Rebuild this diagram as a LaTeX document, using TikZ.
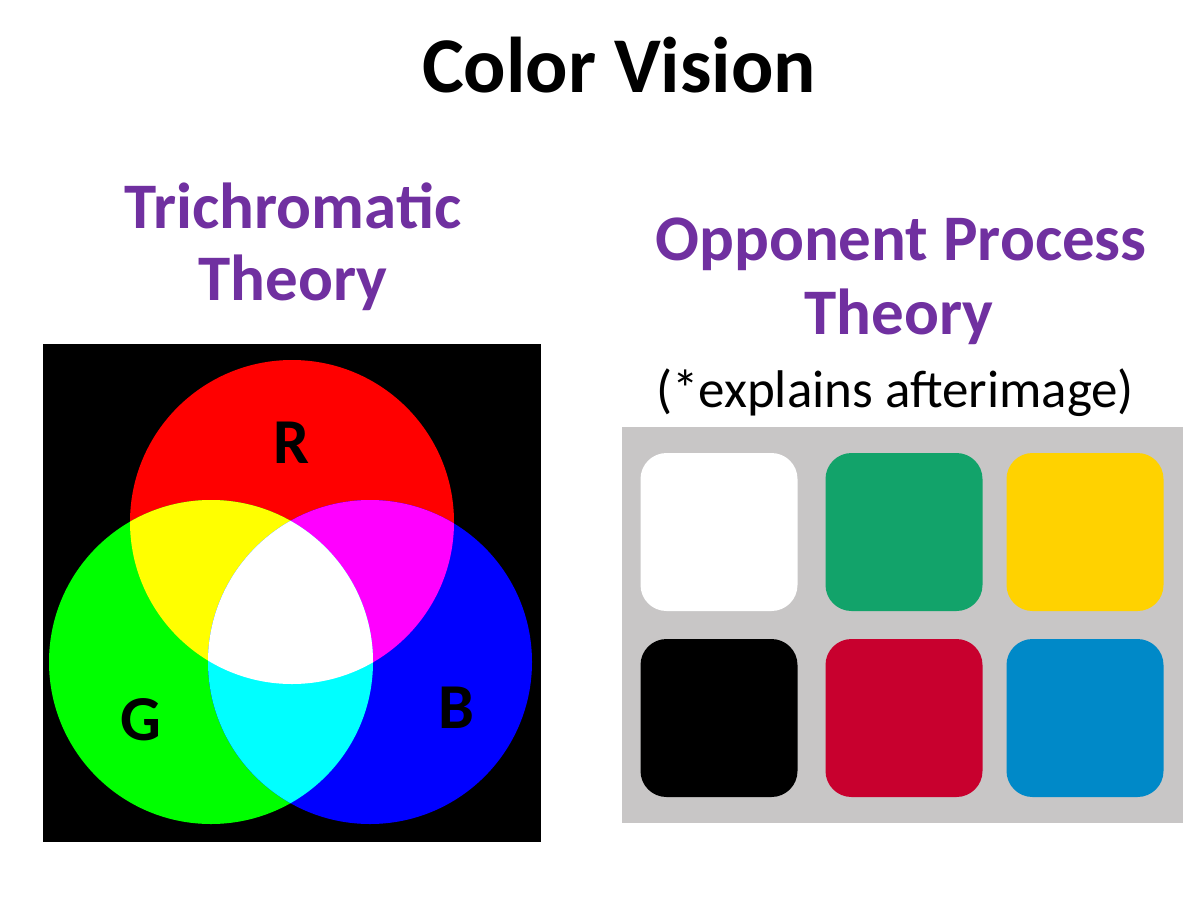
\documentclass[tikz,border=0pt]{standalone}
\usepackage{fontspec}
\setmainfont{Carlito}
\usepackage{xcolor}
\usepackage{tikz}
\usetikzlibrary{positioning}
\definecolor{theorypurple}{HTML}{7030A0}
\definecolor{panelgray}{HTML}{C8C6C6}
\definecolor{tilegreen}{HTML}{12A36A}
\definecolor{tileyellow}{HTML}{FFD200}
\definecolor{tilered}{HTML}{C8002E}
\definecolor{tileblue}{HTML}{0089C8}
\definecolor{lightred}{HTML}{FF0000}
\definecolor{lightgreen}{HTML}{00FF00}
\definecolor{lightblue}{HTML}{0000FF}
\definecolor{mixyellow}{HTML}{FFFF00}
\definecolor{mixmagenta}{HTML}{FF00FF}
\definecolor{mixcyan}{HTML}{00FFFF}

\begin{document}
\begin{tikzpicture}[x=1pt, y=-1pt, font=\bfseries,
  heading/.style={anchor=base, inner sep=0pt, text=theorypurple, font=\bfseries\fontsize{65}{72}\selectfont},
  lightletter/.style={anchor=base, inner sep=0pt, font=\bfseries\fontsize{64}{70}\selectfont},
  tile/.style={minimum width=157pt, minimum height=158pt, rounded corners=26pt, inner sep=0pt}]
  \useasboundingbox (0,0) rectangle (1191,905);
  \fill[white] (0,0) rectangle (1191,905);

  % Titles
  \node[anchor=base, inner sep=0pt, font=\bfseries\fontsize{79}{86}\selectfont] (title) at (619,92) {Color Vision};
  \node[heading] (tri1) at (293,228) {Trichromatic};
  \node[heading] (tri2) at (293,300) {Theory};
  \node[heading] (opp1) at (901,260) {Opponent Process};
  \node[heading] (opp2) at (899,334) {Theory};
  \node[anchor=base, inner sep=0pt, font=\fontsize{53}{60}\selectfont] (note) at (895,407) {(*explains afterimage)};

  % Additive light mixing
  \fill[black] (43,344) rectangle (541,842);
  \coordinate (rc) at (292,522);
  \coordinate (gc) at (211,662);
  \coordinate (bc) at (370,662);
  \fill[lightred] (rc) circle (162pt);
  \fill[lightgreen] (gc) circle (162pt);
  \fill[lightblue] (bc) circle (162pt);
  \begin{scope}
    \clip (rc) circle (162pt);
    \fill[mixyellow] (gc) circle (162pt);
  \end{scope}
  \begin{scope}
    \clip (rc) circle (162pt);
    \fill[mixmagenta] (bc) circle (162pt);
  \end{scope}
  \begin{scope}
    \clip (gc) circle (162pt);
    \fill[mixcyan] (bc) circle (162pt);
  \end{scope}
  \begin{scope}
    \clip (rc) circle (162pt);
    \clip (gc) circle (162pt);
    \fill[white] (bc) circle (162pt);
  \end{scope}
  \node[lightletter] (lr) at (292,463) {R};
  \node[lightletter] (lg) at (141,740) {G};
  \node[lightletter] (lb) at (456,728) {B};

  % Afterimage swatches
  \fill[panelgray] (622,427) rectangle (1183,823);
  \foreach \col/\x/\y/\nm in {white/719/532/sw1, tilegreen/904/532/sw2, tileyellow/1085/532/sw3,
                              black/719/718/sw4, tilered/904/718/sw5, tileblue/1085/718/sw6}
    \node[tile, fill=\col] (\nm) at (\x,\y) {};
\end{tikzpicture}
\end{document}
